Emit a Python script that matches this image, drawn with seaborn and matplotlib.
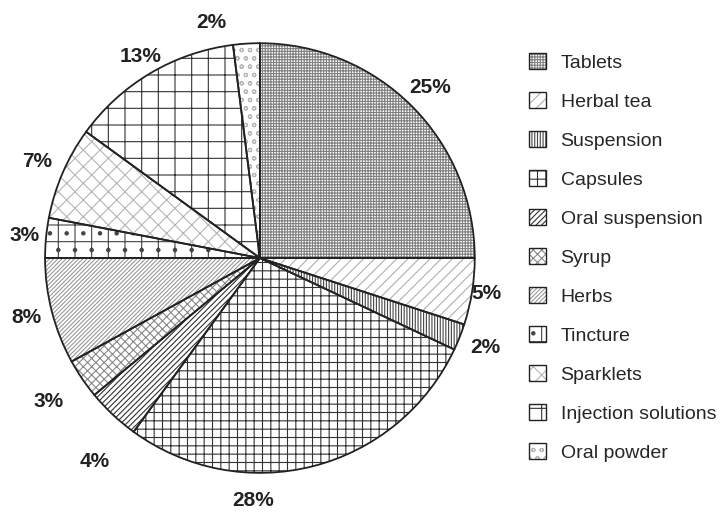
import seaborn as sns
import numpy as np
import matplotlib.pyplot as plt
from matplotlib.patches import Patch

forms = ["Tablets", "Herbal tea", "Suspension", "Capsules", "Oral suspension", "Syrup",
         "Herbs", "Tincture", "Sparklets", "Injection solutions", "Oral powder"]
shares = [25, 5, 2, 28, 4, 3, 8, 3, 7, 13, 2]

hatches = ["||||||------", "///", "||||||", "--||", "//////", "xxxx",
           "////////", "+.", "\\\\//", "+", "oo"]
hatch_cols = ["#808080", "#b0b0b0", "#444444", "#333333", "#333333", "#888888",
              "#999999", "#444444", "#b5b5b5", "#333333", "#b5b5b5"]

# label placement tweaks (angle shift in degrees, radial distance)
lab_shift = [0, 0, 0, -16, 4, 0, 0, 0, 0, 0, 8]
lab_dist = [1.12, 1.07, 1.13, 1.13, 1.22, 1.19, 1.12, 1.10, 1.13, 1.09, 1.12]

sns.set_theme(style="white")
plt.rcParams['font.family'] = ['Liberation Sans', 'DejaVu Sans']
plt.rcParams['hatch.linewidth'] = 0.8

fig = plt.figure(figsize=(7.27, 5.13), dpi=100)
ax = fig.add_axes([0.062, 0.078, 0.591, 0.838])

# hatched fill first (hatch takes the edge colour), outlines drawn on top
wedges, _ = ax.pie(shares, startangle=90, counterclock=False,
                   colors=["white"] * len(shares),
                   wedgeprops=dict(linewidth=0))
for w, h, c in zip(wedges, hatches, hatch_cols):
    w.set_hatch(h)
    w.set_edgecolor(c)
    w.set_linewidth(0)

outl, _, pcts = ax.pie(shares, startangle=90, counterclock=False,
                       autopct="%.0f%%", pctdistance=1.13,
                       wedgeprops=dict(facecolor="none", edgecolor="#222222", linewidth=1.3),
                       textprops=dict(fontsize=15, fontweight="bold", color="#222222"))
for w, t, s, d in zip(outl, pcts, lab_shift, lab_dist):
    ang = np.deg2rad((w.theta1 + w.theta2) / 2 + s)
    t.set_position((d * np.cos(ang), d * np.sin(ang)))

ax.set_xlim(-1, 1)
ax.set_ylim(-1, 1)
ax.set_aspect("equal")

handles = []
for f, h, c in zip(forms, hatches, hatch_cols):
    fill = Patch(facecolor="white", edgecolor=c, hatch=h, linewidth=0)
    box = Patch(facecolor="none", edgecolor="#222222", linewidth=1.0)
    handles.append((fill, box))
fig.legend(handles=handles, labels=forms, loc="upper left", bbox_to_anchor=(0.727, 0.897),
           frameon=False, fontsize=14, handlelength=0.9, handleheight=0.9,
           handletextpad=0.75, labelspacing=1.04, borderaxespad=0, borderpad=0)

fig.savefig("out.png", dpi=100)
